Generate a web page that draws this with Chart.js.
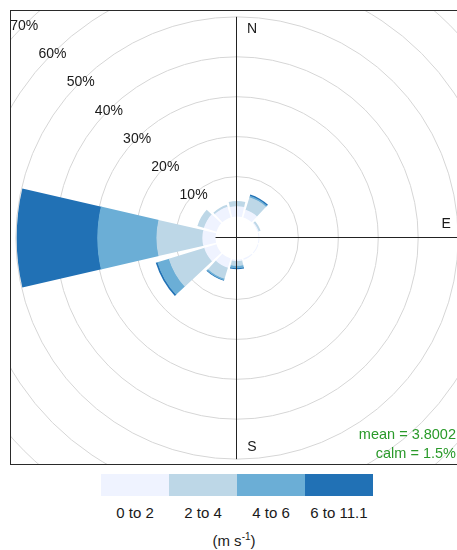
<!DOCTYPE html>
<html>
<head>
<meta charset="utf-8">
<title>Wind rose</title>
<script src="https://cdn.jsdelivr.net/npm/chart.js@4.4.1/dist/chart.umd.min.js"></script>
<style>
  html, body { margin: 0; padding: 0; background: #fff; }
  body {
    width: 457px; height: 550px; overflow: hidden; position: relative;
    font-family: "Liberation Sans", Arial, sans-serif; color: #1a1a1a;
  }
  #panel {
    position: absolute; left: 10px; top: 10px; width: 455px; height: 455px;
    box-sizing: border-box; border: 1px solid #2a2a2a; overflow: hidden;
  }
  /* the rose canvas is bigger than the panel; outer rings get clipped */
  #rose-wrap { position: absolute; left: -75px; top: -74px; width: 602px; height: 602px; }
  #stats {
    position: absolute; left: 280px; width: 176px; top: 425px;
    text-align: right; font-size: 14.5px; line-height: 19px; color: #2a9a2a;
  }
  #key { position: absolute; left: 101px; top: 474px; width: 272px; }
  #key .bar { display: flex; height: 22px; }
  #key .bar div { flex: 1; }
  #key .labels { display: flex; margin-top: 8px; font-size: 15px; line-height: 17px; }
  #key .labels div { flex: 1; text-align: center; }
  #units {
    position: absolute; left: 0; width: 468px; top: 532px;
    text-align: center; font-size: 15px; line-height: 17px;
  }
  #units sup { font-size: 10px; line-height: 0; vertical-align: 6px; }
</style>
</head>
<body>
<div id="panel">
  <div id="rose-wrap"><canvas id="rose" width="602" height="602"></canvas></div>
</div>
<div id="stats"></div>
<div id="key"><div class="bar"></div><div class="labels"></div></div>
<div id="units">(m s<sup>-1</sup>)</div>

<script>
"use strict";

// wind directions, clockwise from north (30 degree sectors)
const directions = ["N", "NNE", "ENE", "E", "ESE", "SSE", "S", "SSW", "WSW", "W", "WNW", "NNW"];
const speedBins = ["0 to 2", "2 to 4", "4 to 6", "6 to 11.1"];
const binColours = ["#eff3ff", "#bdd7e7", "#6baed6", "#2171b5"];

// frequency (% of hours) in each speed bin, per direction
const freq0to2  = [2.6, 2.0, 0.3, 0.25, 0.25, 0.3, 0.4, 2.4, 3.2, 3.3, 3.3, 2.8];
const freq2to4  = [1.3, 3.3, 0.5, 0, 0, 0, 1.2, 2.9, 9.3, 11.5, 1.7, 0.5];
const freq4to6  = [0, 0.4, 0, 0, 0, 0, 0.6, 0.4, 3.0, 14.8, 0, 0];
const freq6to11 = [0, 0.3, 0, 0, 0, 0, 0.25, 0.15, 0.4, 20.2, 0, 0];

const ringTicks = [10, 20, 30, 40, 50, 60, 70];
const meanSpeed = 3.8002;
const calmPct = 1.5;

const wedgeWidth = 26;  // degrees per sector actually painted
const gapWidth = 4;     // white gap between sectors
const holeSize = 5.375; // calm hole, in % units below zero

// stack the bins: each dataset holds the running total out to that bin.
// sectors alternate with empty gap slots so the wedges stand apart.
const binFreqs = [freq0to2, freq2to4, freq4to6, freq6to11];
const labels = [];
directions.forEach(d => labels.push(d, ""));

const datasets = binFreqs.map((freq, b) => {
  const data = [];
  directions.forEach((d, i) => {
    let total = 0;
    for (let k = 0; k <= b; k++) total += binFreqs[k][i];
    data.push(total, 0);
  });
  return {
    label: speedBins[b],
    data: data,
    backgroundColor: binColours[b],
    borderWidth: 0,
    angle: (ctx) => (ctx.dataIndex % 2 === 0 ? wedgeWidth : gapWidth),
  };
});

// polar area arcs always start at the centre; turn them into rings so
// each speed bin starts where the previous one ends (and 0 % is the hole)
const stackRings = {
  id: "stackRings",
  afterDatasetsUpdate(chart) {
    const scale = chart.scales.r;
    const hole = scale.getDistanceFromCenterForValue(0);
    chart.data.datasets.forEach((ds, b) => {
      const arcs = chart.getDatasetMeta(b).data;
      const below = b > 0 ? chart.getDatasetMeta(b - 1).data : null;
      arcs.forEach((arc, i) => {
        const inner = below ? below[i].outerRadius - 0.5 : hole;
        arc.innerRadius = Math.min(inner, arc.outerRadius);
        if (arc.outerRadius - (below ? below[i].outerRadius : hole) <= 0) {
          arc.innerRadius = arc.outerRadius;
        }
      });
    });
  }
};

// axes and text on top of the wedges
const roseOverlay = {
  id: "roseOverlay",
  afterDatasetsDraw(chart) {
    const scale = chart.scales.r;
    const ctx = chart.ctx;
    const cx = scale.xCenter;
    const cy = scale.yCenter;
    const hole = scale.getDistanceFromCenterForValue(0);
    const reach = scale.getDistanceFromCenterForValue(50);

    ctx.save();
    ctx.strokeStyle = "#222";
    ctx.lineWidth = 1;
    ctx.beginPath();
    ctx.moveTo(cx - 0.5, cy - reach);
    ctx.lineTo(cx - 0.5, cy + reach);
    ctx.moveTo(cx - hole, cy - 0.5);
    ctx.lineTo(cx + reach, cy - 0.5);
    ctx.stroke();

    ctx.fillStyle = "#1a1a1a";
    ctx.font = '14px "Liberation Sans", Arial, sans-serif';
    ctx.textAlign = "center";
    ctx.textBaseline = "middle";

    // percentage labels along the north-west diagonal
    ringTicks.forEach(v => {
      const d = scale.getDistanceFromCenterForValue(v) * Math.SQRT1_2;
      ctx.fillText(v + "%", cx - d, cy - d + 1);
    });

    const lab = scale.getDistanceFromCenterForValue(47);
    ctx.fillText("N", cx + 15, cy - lab);
    ctx.fillText("E", cx + lab, cy - 14);
    ctx.fillText("S", cx + 15, cy + lab);
    ctx.restore();
  }
};

new Chart(document.getElementById("rose"), {
  type: "polarArea",
  data: { labels: labels, datasets: datasets },
  options: {
    responsive: false,
    animation: false,
    events: [],
    layout: { padding: 0 },
    plugins: { legend: { display: false }, tooltip: { enabled: false } },
    scales: {
      r: {
        min: -holeSize,
        max: 70,
        startAngle: -wedgeWidth / 2,
        ticks: { display: false },
        afterBuildTicks: (scale) => {
          scale.ticks = ringTicks.map(v => ({ value: v }));
        },
        grid: { circular: true, color: "#d6d6d6", lineWidth: 1 },
        angleLines: { display: false },
        pointLabels: { display: false },
      }
    }
  },
  plugins: [stackRings, roseOverlay]
});

// stats box and colour key
document.getElementById("stats").innerHTML =
  "mean = " + meanSpeed + "<br>calm = " + calmPct + "%";

const bar = document.querySelector("#key .bar");
const keyLabels = document.querySelector("#key .labels");
speedBins.forEach((name, i) => {
  const swatch = document.createElement("div");
  swatch.style.background = binColours[i];
  bar.appendChild(swatch);
  const txt = document.createElement("div");
  txt.textContent = name;
  keyLabels.appendChild(txt);
});
</script>
</body>
</html>
